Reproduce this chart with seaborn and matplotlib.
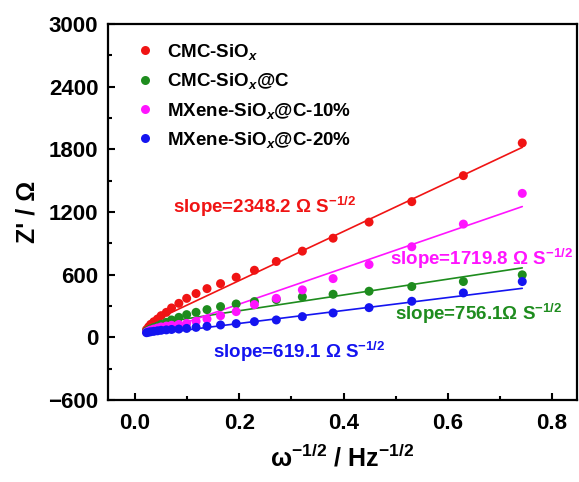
import numpy as np
import pandas as pd
import matplotlib
matplotlib.use("Agg")
import matplotlib.pyplot as plt
import seaborn as sns

# --- data ---
x_vals = [0.743, 0.630, 0.531, 0.449, 0.380, 0.321, 0.271, 0.229, 0.194, 0.164, 0.138,
          0.117, 0.099, 0.084, 0.070, 0.060, 0.050, 0.043, 0.036, 0.030, 0.026, 0.022]

cmc_siox = [1862, 1549, 1300, 1104, 950, 826, 727, 643, 576, 515, 467,
            420, 374, 326, 282, 240, 208, 176, 150, 125, 100, 75]
cmc_siox_c = [599, 535, 487, 442, 413, 388, 362, 343, 320, 295, 266,
              240, 218, 192, 167, 144, 125, 108, 95, 82, 70, 60]
mxene_10 = [1379, 1085, 868, 698, 563, 455, 374, 314, 247, 208, 176,
            154, 134, 124, 116, 108, 100, 90, 80, 70, 60, 50]
mxene_20 = [535, 426, 346, 285, 234, 199, 167, 151, 132, 119, 106,
            96, 86, 80, 76, 72, 68, 63, 58, 54, 50, 45]

series_names = ["CMC-SiO$_x$", "CMC-SiO$_x$@C", "MXene-SiO$_x$@C-10%", "MXene-SiO$_x$@C-20%"]
series_values = [cmc_siox, cmc_siox_c, mxene_10, mxene_20]
colors = ["#f01414", "#1e8c1e", "#ff14ff", "#1414f0"]

# linear fits (slope as printed, intercept estimated)
slopes = [2348.2, 756.1, 1719.8, 619.1]
intercepts = [75, 104, -25, 10]

slope_texts = ["slope=2348.2 Ω S$^{-1/2}$", "slope=756.1Ω S$^{-1/2}$",
               "slope=1719.8 Ω S$^{-1/2}$", "slope=619.1 Ω S$^{-1/2}$"]
text_x = [0.072, 0.499, 0.489, 0.150]
text_y = [1248, 225, 752, -144]

# --- style ---
sns.set_style("ticks")
plt.rcParams["font.family"] = ["Liberation Sans", "DejaVu Sans"]
plt.rcParams["font.weight"] = "bold"
plt.rcParams["mathtext.fontset"] = "custom"
plt.rcParams["mathtext.rm"] = "Liberation Sans:bold"
plt.rcParams["mathtext.it"] = "Liberation Sans:italic:bold"
plt.rcParams["mathtext.bf"] = "Liberation Sans:bold"
plt.rcParams["mathtext.default"] = "it"

df = pd.DataFrame({
    "x": np.tile(x_vals, len(series_names)),
    "y": np.concatenate(series_values),
    "sample": np.repeat(series_names, len(x_vals)),
})

fig = plt.figure(figsize=(5.79, 4.82), dpi=100)
ax = fig.add_axes([0.1865, 0.170, 0.810, 0.780])

sns.scatterplot(data=df, x="x", y="y", hue="sample", palette=colors,
                s=42, linewidth=0, ax=ax, zorder=3)

x_arr = np.array(x_vals)
for slope, b, c in zip(slopes, intercepts, colors):
    fit = pd.DataFrame({"x": [x_arr.min(), x_arr.max()],
                        "y": [b + slope * x_arr.min(), b + slope * x_arr.max()]})
    sns.lineplot(data=fit, x="x", y="y", color=c, linewidth=1.2, ax=ax, zorder=2)

for txt, tx, ty, c in zip(slope_texts, text_x, text_y, colors):
    ax.text(tx, ty, txt, color=c, fontsize=13.5, fontweight="bold", va="center", ha="left")

ax.set_xlim(-0.052, 0.848)
ax.set_ylim(-600, 3000)
ax.set_xticks([0.0, 0.2, 0.4, 0.6, 0.8])
ax.set_xticks([0.1, 0.3, 0.5, 0.7], minor=True)
ax.set_yticks([-600, 0, 600, 1200, 1800, 2400, 3000])
ax.set_yticks([-300, 300, 900, 1500, 2100, 2700], minor=True)
ax.tick_params(which="both", direction="in", width=1.5, labelsize=16, pad=7,
               color="black", labelcolor="black")
ax.tick_params(which="major", length=5)
ax.tick_params(which="minor", length=3)
ax.tick_params(axis="x", pad=9)
for lab in ax.get_xticklabels() + ax.get_yticklabels():
    lab.set_fontweight("bold")
for sp in ax.spines.values():
    sp.set_linewidth(1.6)
    sp.set_color("black")
    sp.set_visible(True)

ax.set_xlabel("ω$^{-1/2}$ / Hz$^{-1/2}$", fontsize=18, fontweight="bold", labelpad=8, color="black")
ax.set_ylabel("Z' / Ω", fontsize=18, fontweight="bold", labelpad=6, color="black")

handles, labels = ax.get_legend_handles_labels()
leg = ax.legend(handles, labels, loc="upper left", frameon=False,
                handletextpad=0.2, labelspacing=0.5, borderaxespad=0.55,
                prop={"weight": "bold", "size": 13.5})
for t in leg.get_texts():
    t.set_color("black")

fig.savefig("out.png", dpi=100)
